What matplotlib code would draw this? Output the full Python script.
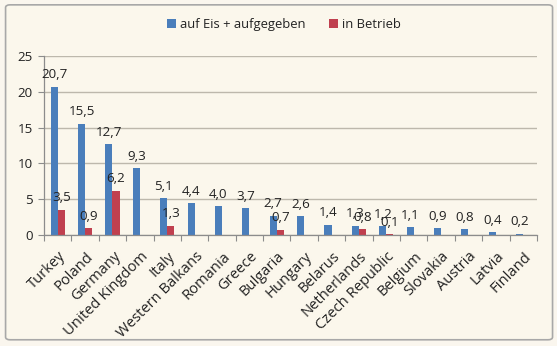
import matplotlib
matplotlib.use("Agg")
import matplotlib.pyplot as plt
import numpy as np
from matplotlib.patches import FancyBboxPatch

plt.rcParams['font.family'] = ['Open Sans', 'DejaVu Sans']

countries = ["Turkey", "Poland", "Germany", "United Kingdom", "Italy",
             "Western Balkans", "Romania", "Greece", "Bulgaria", "Hungary",
             "Belarus", "Netherlands", "Czech Republic", "Belgium", "Slovakia",
             "Austria", "Latvia", "Finland"]
eis_aufgegeben = [20.7, 15.5, 12.7, 9.3, 5.1, 4.4, 4.0, 3.7, 2.7, 2.6,
                  1.4, 1.3, 1.2, 1.1, 0.9, 0.8, 0.4, 0.2]
in_betrieb = [3.5, 0.9, 6.2, None, 1.3, None, None, None, 0.7, None,
              None, 0.8, 0.1, None, None, None, None, None]
y_ticks = [0, 5, 10, 15, 20, 25]

BG = '#FBF7EC'
BLUE = '#4A7EBB'
RED = '#C0404F'
GRID = '#BDB8AC'
TEXT = '#222222'
FS = 9.6

fig = plt.figure(figsize=(5.57, 3.46), dpi=100, facecolor='#FAF6EE')
frame = FancyBboxPatch((0.010, 0.018), 0.982, 0.968, boxstyle="round,pad=0,rounding_size=0.008",
                       transform=fig.transFigure, facecolor=BG, edgecolor='#A8A8A8',
                       linewidth=1.2, zorder=-5)
fig.patches.append(frame)

ax = fig.add_axes([0.079, 0.321, 0.885, 0.517])
ax.set_facecolor('none')

x = np.arange(len(countries))
w = 0.26
blue_bars = ax.bar(x - w / 2, eis_aufgegeben, width=w, color=BLUE, zorder=2,
                   label='auf Eis + aufgegeben')
red_x = [xi + w / 2 for xi, v in zip(x, in_betrieb) if v is not None]
red_v = [v for v in in_betrieb if v is not None]
red_bars = ax.bar(red_x, red_v, width=w, color=RED, zorder=2, label='in Betrieb')

def fmt(v):
    return f"{v:.1f}".replace('.', ',')

# value labels with German decimal comma
for bars, vals in ((blue_bars, eis_aufgegeben), (red_bars, red_v)):
    for b, v in zip(bars, vals):
        ax.annotate(fmt(v), (b.get_x() + b.get_width() / 2, v), xytext=(0, 4),
                    textcoords='offset points', ha='center', va='bottom',
                    fontsize=FS, color=TEXT, zorder=3)

ax.set_xlim(-0.5, len(countries) - 0.5)
ax.set_ylim(0, 25)
ax.set_yticks(y_ticks)
ax.set_yticklabels([str(t) for t in y_ticks], fontsize=FS, color=TEXT)
ax.yaxis.grid(True, color=GRID, linewidth=1.0, zorder=0)
ax.set_axisbelow(True)
ax.tick_params(axis='y', length=4, width=0.8, color='#8C8C8C', pad=4)

# tick marks between categories, names drawn separately at 45 degrees
ax.set_xticks(np.arange(-0.5, len(countries), 1.0))
ax.set_xticklabels([])
ax.tick_params(axis='x', length=4, width=0.8, color='#8C8C8C')
for xi, name in zip(x, countries):
    ax.text(xi + 0.02, -1.95, name, rotation=45, ha='right', va='top',
            rotation_mode='anchor', fontsize=10.6, color=TEXT)

for side in ('top', 'right'):
    ax.spines[side].set_visible(False)
for side in ('left', 'bottom'):
    ax.spines[side].set_color('#8C8C8C')
    ax.spines[side].set_linewidth(0.9)

fig.legend(handles=[blue_bars, red_bars], loc='center', bbox_to_anchor=(0.51, 0.928),
           ncol=2, frameon=False, fontsize=9.4, handlelength=0.7, handleheight=0.7,
           handletextpad=0.3, columnspacing=1.8, labelcolor=TEXT)

fig.savefig('out.png', dpi=100, facecolor=fig.get_facecolor())
